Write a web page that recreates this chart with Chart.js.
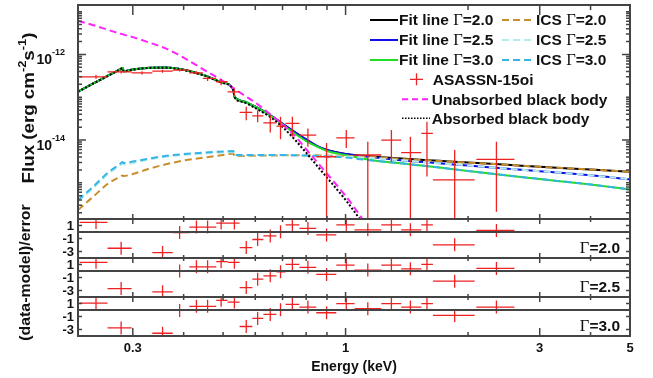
<!DOCTYPE html>
<html>
<head>
<meta charset="utf-8">
<title>ASASSN-15oi X-ray spectrum</title>
<script src="https://cdn.jsdelivr.net/npm/chart.js@4.4.1/dist/chart.umd.min.js"></script>
<style>
html,body{margin:0;padding:0;background:#fff;}
#wrap{position:relative;width:653px;height:378px;}
</style>
</head>
<body>
<div id="wrap"><canvas id="spec" width="653" height="378"></canvas></div>
<script>
(function(){
// model grid (keV); edges at ~0.284 (C) and ~0.532 (O) get two close points
var energyGrid = [0.22,0.24,0.26,0.28,0.283,0.285,0.30,0.33,0.36,0.40,0.45,0.50,0.530,0.533,0.56,0.60,
                  0.65,0.70,0.75,0.80,0.85,0.90,1.0,1.1,1.2,1.4,1.7,2.0,2.5,3.0,4.0,5.0];

var fitG20 = [1.35e-13,2.11e-13,3.14e-13,4.57e-13,4.82e-13,4.04e-13,4.45e-13,4.88e-13,4.96e-13,4.40e-13,3.25e-13,2.19e-13,1.50e-13,1.05e-13,8.1e-14,6.0e-14,
              3.9e-14,2.4e-14,1.54e-14,1.03e-14,7.24e-15,5.84e-15,4.71e-15,4.28e-15,4.01e-15,3.64e-15,3.27e-15,2.99e-15,2.64e-15,2.37e-15,2.05e-15,1.82e-15];
var fitG25 = [1.35e-13,2.11e-13,3.14e-13,4.57e-13,4.82e-13,4.04e-13,4.45e-13,4.88e-13,4.96e-13,4.40e-13,3.25e-13,2.19e-13,1.50e-13,1.05e-13,8.1e-14,6.0e-14,
              3.9e-14,2.4e-14,1.54e-14,1.04e-14,7.3e-15,5.84e-15,4.71e-15,4.23e-15,3.86e-15,3.32e-15,2.86e-15,2.54e-15,2.14e-15,1.87e-15,1.51e-15,1.21e-15];
var fitG30 = [1.35e-13,2.11e-13,3.14e-13,4.57e-13,4.82e-13,4.04e-13,4.45e-13,4.88e-13,4.96e-13,4.40e-13,3.25e-13,2.19e-13,1.50e-13,1.05e-13,8.1e-14,6.0e-14,
              3.85e-14,2.3e-14,1.42e-14,9.48e-15,7.05e-15,5.54e-15,4.47e-15,3.70e-15,3.24e-15,2.79e-15,2.28e-15,1.89e-15,1.48e-15,1.23e-15,9.15e-16,7.0e-16];

var icsG20 = [2.32e-16,4.80e-16,9.40e-16,1.41e-15,1.48e-15,1.45e-15,1.61e-15,2.16e-15,2.68e-15,3.32e-15,3.91e-15,4.47e-15,4.84e-15,4.23e-15,4.23e-15,4.30e-15,
              4.35e-15,4.40e-15,4.42e-15,4.42e-15,4.40e-15,4.35e-15,4.23e-15,4.12e-15,3.95e-15,3.56e-15,3.24e-15,2.97e-15,2.64e-15,2.37e-15,2.05e-15,1.82e-15];
var icsG25 = [3.67e-16,7.59e-16,1.57e-15,2.61e-15,2.83e-15,2.68e-15,2.90e-15,3.51e-15,4.01e-15,4.47e-15,4.84e-15,5.11e-15,5.25e-15,4.40e-15,4.42e-15,4.42e-15,
              4.40e-15,4.40e-15,4.37e-15,4.35e-15,4.30e-15,4.23e-15,4.12e-15,3.91e-15,3.70e-15,3.32e-15,2.86e-15,2.54e-15,2.14e-15,1.87e-15,1.51e-15,1.21e-15];
var icsG30 = [3.98e-16,8.22e-16,1.70e-15,2.83e-15,3.07e-15,2.90e-15,3.15e-15,3.70e-15,4.23e-15,4.71e-15,5.11e-15,5.39e-15,5.54e-15,4.47e-15,4.47e-15,4.47e-15,
              4.47e-15,4.47e-15,4.42e-15,4.35e-15,4.23e-15,4.12e-15,3.91e-15,3.51e-15,3.24e-15,2.79e-15,2.28e-15,1.89e-15,1.48e-15,1.23e-15,9.15e-16,7.0e-16];

var bbUnabs = [6.08e-12,4.83e-12,3.79e-12,3.05e-12,2.98e-12,2.91e-12,2.54e-12,1.88e-12,1.40e-12,8.41e-13,4.31e-13,2.38e-13,1.64e-13,1.58e-13,1.15e-13,7.50e-14,
               4.15e-14,2.30e-14,1.27e-14,6.14e-15,3.10e-15,1.64e-15,4.96e-16,1.43e-16,3.94e-17,null,null,null,null,null,null,null];
var bbAbs   = [1.34e-13,2.10e-13,3.12e-13,4.54e-13,4.79e-13,4.01e-13,4.42e-13,4.84e-13,4.92e-13,4.35e-13,3.20e-13,2.14e-13,1.45e-13,1.01e-13,7.71e-14,5.58e-14,
               3.54e-14,2.02e-14,1.03e-14,5.06e-15,2.54e-15,1.33e-15,4.0e-16,1.17e-16,3.7e-17,null,null,null,null,null,null,null];

// ASASSN-15oi binned spectrum (0 in the lower bound = bar runs off the bottom)
var dataE    = [0.2436,0.2808,0.316,0.355,0.391,0.430,0.458,0.4945,0.533,0.570,0.608,0.653,0.692,0.740,0.808,0.898,1.004,1.134,1.296,1.443,1.585,1.854,2.348];
var dataELo  = [0.222,0.260,0.298,0.335,0.376,0.413,0.446,0.481,0.513,0.549,0.590,0.628,0.676,0.712,0.770,0.847,0.949,1.052,1.224,1.370,1.535,1.639,2.096];
var dataEHi  = [0.260,0.298,0.335,0.376,0.413,0.446,0.481,0.513,0.549,0.590,0.628,0.676,0.712,0.770,0.847,0.949,1.052,1.224,1.370,1.535,1.639,2.076,2.600];
var dataFlux = [3.0e-13,3.93e-13,3.72e-13,4.07e-13,4.3e-13,3.72e-13,2.75e-13,2.3e-13,1.34e-13,4.43e-14,3.69e-14,2.53e-14,2.12e-14,2.46e-14,1.31e-14,
                4.07e-15,1.13e-14,4.47e-15,1.0e-14,5.06e-15,1.43e-14,1.17e-15,3.55e-15];
var dataFLo  = [2.7e-13,3.6e-13,3.4e-13,3.75e-13,3.97e-13,3.4e-13,2.4e-13,1.9e-13,1.1e-13,2.9e-14,2.6e-14,1.5e-14,1.05e-14,1.2e-14,7.0e-15,
                0,6.5e-15,0,3.1e-15,0,1.4e-15,0,2.1e-16];
var dataFHi  = [3.3e-13,4.26e-13,4.04e-13,4.39e-13,4.63e-13,4.04e-13,3.1e-13,2.7e-13,1.58e-13,6.0e-14,5.0e-14,3.8e-14,3.5e-14,3.5e-14,1.87e-14,
                8.5e-15,1.71e-14,9.1e-15,1.71e-14,1.19e-14,2.67e-14,5.84e-15,9.1e-15];

// (data-model)/error for each photon index
var resG20 = [1.47,-2.5,-4.85,-3.17,-0.08,0.76,0.76,1.38,1.38,-2.4,-1.15,-0.6,0.05,1.1,0.55,-0.45,1.1,0.34,1.1,0.34,1.1,-1.98,0.23];
var resG25 = [1.33,-2.7,-4.85,-3.2,0.0,0.65,0.65,1.43,1.33,-2.55,-1.26,-0.74,-0.12,1.02,0.56,-0.53,0.91,0.14,0.91,0.34,1.02,-1.57,0.4];
var resG30 = [1.07,-2.75,-4.85,-3.58,-0.06,0.56,0.56,1.49,1.22,-2.54,-1.3,-0.68,0.05,0.87,0.45,-0.42,0.98,0.2,0.98,0.45,0.98,-0.84,0.45];

var gammas = ["2.0","2.5","3.0"];
var xTickLabels = [0.3,1,3,5];
var xMajor = [0.3,1,3];
var xMinor = [0.4,0.5,0.6,0.7,0.8,0.9,2,4];
var yLabelPowers = [-12,-14];
var resTicks = [1,-1,-3];

var SANS = '"Liberation Sans", Arial, Helvetica, sans-serif';
var SERIF = '"Liberation Serif", "Times New Roman", serif';
var AXIS = "#444";
var RED = "#ee2222";
var C = { fit20:"#000000", fit25:"#1010e8", fit30:"#22dd22", ics20:"#c88e2c", ics25:"#b4ecec", ics30:"#35b4e6", unabs:"#ff22ff" };
var LEG = "bold 15.5px " + SANS;

function pts(arr){ var out=[]; for(var i=0;i<energyGrid.length;i++){ out.push({x:energyGrid[i], y:arr[i]}); } return out; }
function dpts(ys){ var out=[]; for(var i=0;i<dataE.length;i++){ out.push({x:dataE[i], y:ys[i]}); } return out; }
function shift(arr, d){ var o=[]; for(var i=0;i<arr.length;i++){ o.push(arr[i]+d); } return o; }

function curve(label, arr, color, dash, width){
  return { label:label, data:pts(arr), yAxisID:"y", borderColor:color, borderWidth:width||2, borderDash:dash||[],
           pointRadius:0, fill:false, cubicInterpolationMode:"monotone", spanGaps:false };
}
function crosses(label, ys, lo, hi, axis){
  return { label:label, data:dpts(ys), yAxisID:axis, showLine:false, pointRadius:0, borderColor:RED,
           errBars:{ xLo:dataELo, xHi:dataEHi, yLo:lo, yHi:hi } };
}

// first dataset is drawn on top
var datasets = [
  crosses("ASASSN-15oi", dataFlux, dataFLo, dataFHi, "y"),
  curve("Absorbed black body", bbAbs, "#000", [2,2], 2),
  curve("Unabsorbed black body", bbUnabs, C.unabs, [7,4], 2),
  curve("ICS \u0393=3.0", icsG30, C.ics30, [7,4], 2),
  curve("ICS \u0393=2.5", icsG25, C.ics25, [7,4], 2),
  curve("ICS \u0393=2.0", icsG20, C.ics20, [7,4], 2),
  curve("Fit line \u0393=3.0", fitG30, C.fit30),
  curve("Fit line \u0393=2.5", fitG25, C.fit25),
  curve("Fit line \u0393=2.0", fitG20, C.fit20),
  crosses("res 2.0", resG20, shift(resG20,-1), shift(resG20,1), "r20"),
  crosses("res 2.5", resG25, shift(resG25,-1), shift(resG25,1), "r25"),
  crosses("res 3.0", resG30, shift(resG30,-1), shift(resG30,1), "r30")
];

function drawRuns(ctx, runs, x, y, align){
  var w = 0, i;
  for (i=0;i<runs.length;i++){ ctx.font = runs[i].font; runs[i].w = ctx.measureText(runs[i].text).width; w += runs[i].w; }
  var cx = align === "right" ? x - w : (align === "center" ? x - w/2 : x);
  ctx.textAlign = "left";
  for (i=0;i<runs.length;i++){ ctx.font = runs[i].font; ctx.fillText(runs[i].text, cx, y + (runs[i].dy||0)); cx += runs[i].w; }
}
function gRuns(prefix, g){
  var r = [];
  if (prefix) r.push({text:prefix, font:LEG});
  r.push({text:"\u0393", font:"16.5px "+SERIF});
  r.push({text:"="+g, font:LEG});
  return r;
}

var crossPlugin = {
  id:"crosses",
  afterDatasetsDraw:function(chart){
    var ctx = chart.ctx, xs = chart.scales.x;
    chart.data.datasets.forEach(function(ds){
      if (!ds.errBars) return;
      var ys = chart.scales[ds.yAxisID], e = ds.errBars;
      ctx.save();
      ctx.beginPath(); ctx.rect(xs.left, ys.top, xs.right - xs.left, ys.bottom - ys.top); ctx.clip();
      ctx.strokeStyle = RED; ctx.lineWidth = 1.3;
      ctx.beginPath();
      for (var k=0;k<ds.data.length;k++){
        var px = xs.getPixelForValue(ds.data[k].x), py = ys.getPixelForValue(ds.data[k].y);
        ctx.moveTo(xs.getPixelForValue(e.xLo[k]), py); ctx.lineTo(xs.getPixelForValue(e.xHi[k]), py);
        ctx.moveTo(px, ys.getPixelForValue(e.yLo[k])); ctx.lineTo(px, ys.getPixelForValue(e.yHi[k]));
      }
      ctx.stroke();
      ctx.restore();
    });
  }
};

var framePlugin = {
  id:"frame",
  afterDraw:function(chart){
    var ctx = chart.ctx, xs = chart.scales.x, ym = chart.scales.y;
    var panels = [chart.scales.r20, chart.scales.r25, chart.scales.r30];
    var L = xs.left, R = xs.right, T = ym.top, B = panels[2].bottom;
    var i, k, p, v, py;
    ctx.save();
    ctx.lineCap = "butt";

    // box, panel separators and zero lines
    ctx.strokeStyle = AXIS; ctx.lineWidth = 2;
    ctx.beginPath();
    ctx.moveTo(L, T-1); ctx.lineTo(L, B+1);
    ctx.moveTo(R, T-1); ctx.lineTo(R, B+1);
    var hs = [T, ym.bottom, panels[0].bottom, panels[1].bottom, B];
    for (i=0;i<hs.length;i++){ ctx.moveTo(L, hs[i]); ctx.lineTo(R, hs[i]); }
    for (i=0;i<panels.length;i++){ py = panels[i].getPixelForValue(0); ctx.moveTo(L, py); ctx.lineTo(R, py); }
    ctx.stroke();

    // energy ticks on every horizontal rule
    ctx.lineWidth = 1.5;
    ctx.beginPath();
    var xt = xMajor.concat(xMinor);
    for (i=0;i<hs.length;i++){
      for (k=0;k<xt.length;k++){
        var maj = xMajor.indexOf(xt[k]) >= 0, px = xs.getPixelForValue(xt[k]);
        var up = maj ? 5 : 3, down = maj ? 5 : 3;
        if (i === 0){ up = 0; down = maj ? 10 : 5; }
        if (i === hs.length-1){ down = 0; up = maj ? 8 : 4; }
        ctx.moveTo(px, hs[i]-up); ctx.lineTo(px, hs[i]+down);
      }
    }
    // flux ticks, both sides
    for (p=-17;p<=-11;p++){
      for (k=1;k<=9;k++){
        v = k*Math.pow(10,p);
        if (v < ym.min || v > ym.max) continue;
        py = ym.getPixelForValue(v);
        var len = (k===1 && yLabelPowers.indexOf(p) >= 0) ? 8 : 4;
        ctx.moveTo(L, py); ctx.lineTo(L+len, py);
        ctx.moveTo(R, py); ctx.lineTo(R-len, py);
      }
    }
    // residual ticks
    for (i=0;i<panels.length;i++){
      for (k=0;k<resTicks.length;k++){
        py = panels[i].getPixelForValue(resTicks[k]);
        ctx.moveTo(L, py); ctx.lineTo(L+4, py);
        ctx.moveTo(R, py); ctx.lineTo(R-4, py);
      }
    }
    ctx.stroke();

    ctx.fillStyle = "#111";
    ctx.textBaseline = "alphabetic";
    // flux tick labels 10^n
    for (i=0;i<yLabelPowers.length;i++){
      py = ym.getPixelForValue(Math.pow(10, yLabelPowers[i]));
      drawRuns(ctx, [{text:"10", font:"bold 14px "+SANS, dy:0},
                     {text:String(yLabelPowers[i]), font:"bold 9px "+SANS, dy:-9}], L-13, py+10, "right");
    }
    // residual tick labels
    ctx.textBaseline = "middle"; ctx.textAlign = "right"; ctx.font = "bold 13px "+SANS;
    for (i=0;i<panels.length;i++){
      for (k=0;k<resTicks.length;k++){
        ctx.fillText(String(resTicks[k]), L-4, panels[i].getPixelForValue(resTicks[k]) + 0.5);
      }
    }
    // photon index per residual panel
    ctx.textBaseline = "alphabetic";
    for (i=0;i<panels.length;i++){ drawRuns(ctx, gRuns("", gammas[i]), R-10, panels[i].bottom-5.5, "right"); }

    // axis titles (drawn slightly stretched along the reading direction)
    var bf = "bold 15px "+SANS;
    ctx.save();
    ctx.translate(34, (ym.top+ym.bottom)/2 - 4);
    ctx.rotate(-Math.PI/2);
    ctx.scale(1.17, 1);
    drawRuns(ctx, [{text:"Flux (erg cm", font:"bold 16px "+SANS}, {text:"-2", font:"bold 11px "+SANS, dy:-8}, {text:"s", font:"bold 16px "+SANS},
                   {text:"-1", font:"bold 11px "+SANS, dy:-8}, {text:")", font:"bold 16px "+SANS}], 0, 0, "center");
    ctx.restore();
    ctx.save();
    ctx.translate(30, (panels[0].top+B)/2 - 5);
    ctx.rotate(-Math.PI/2);
    ctx.scale(1.055, 1);
    drawRuns(ctx, [{text:"(data-model)/error", font:bf}], 0, 0, "center");
    ctx.restore();

    // legend
    var lx = R, ly = T;
    ctx.textBaseline = "middle";
    var fitCols = [C.fit20, C.fit25, C.fit30], icsCols = [C.ics20, C.ics25, C.ics30];
    for (i=0;i<3;i++){
      var ry = ly + 15 + 20*i;
      ctx.setLineDash([]); ctx.lineWidth = 2; ctx.strokeStyle = fitCols[i];
      ctx.beginPath(); ctx.moveTo(lx-260, ry); ctx.lineTo(lx-232, ry); ctx.stroke();
      drawRuns(ctx, gRuns("Fit line ", gammas[i]), lx-231, ry+1, "left");
      ctx.setLineDash([7,4]); ctx.strokeStyle = icsCols[i];
      ctx.beginPath(); ctx.moveTo(lx-128, ry); ctx.lineTo(lx-97, ry); ctx.stroke();
      drawRuns(ctx, gRuns("ICS ", gammas[i]), lx-94, ry+1, "left");
    }
    ctx.setLineDash([]);
    var cy = ly + 74.3;
    ctx.strokeStyle = RED; ctx.lineWidth = 1.3;
    ctx.beginPath();
    ctx.moveTo(lx-220, cy); ctx.lineTo(lx-207, cy);
    ctx.moveTo(lx-213.5, cy-6); ctx.lineTo(lx-213.5, cy+6);
    ctx.stroke();
    drawRuns(ctx, [{text:"ASASSN-15oi", font:LEG}], lx-197.3, cy+1, "left");
    var my = ly + 94.3;
    ctx.setLineDash([6,4]); ctx.lineWidth = 2; ctx.strokeStyle = C.unabs;
    ctx.beginPath(); ctx.moveTo(lx-228, my); ctx.lineTo(lx-200, my); ctx.stroke();
    drawRuns(ctx, [{text:"Unabsorbed black body", font:LEG}], lx-198.3, my+1, "left");
    var dy = ly + 113.3;
    ctx.setLineDash([1.5,1.5]); ctx.lineWidth = 1.5; ctx.strokeStyle = "#000";
    ctx.beginPath(); ctx.moveTo(lx-228, dy); ctx.lineTo(lx-200, dy); ctx.stroke();
    drawRuns(ctx, [{text:"Absorbed black body", font:LEG}], lx-198.3, dy+1, "left");
    ctx.restore();
  }
};

new Chart(document.getElementById("spec"), {
  type:"line",
  data:{ datasets:datasets },
  options:{
    responsive:false, animation:false, devicePixelRatio:1,
    layout:{ padding:{ left:78, right:23, top:5, bottom:0 } },
    plugins:{ legend:{display:false}, tooltip:{enabled:false}, title:{display:false} },
    scales:{
      x:{ type:"logarithmic", position:"bottom", min:0.22, max:5,
          grid:{display:false, drawTicks:false}, border:{display:false},
          afterBuildTicks:function(s){ s.ticks = xTickLabels.map(function(v){ return {value:v}; }); },
          afterFit:function(s){ s.height = 42; },
          ticks:{ autoSkip:false, maxRotation:0, padding:5, color:"#111",
                  font:{family:SANS, size:13, weight:"bold"},
                  callback:function(v){ return String(v); } },
          title:{ display:true, text:"Energy (keV)", color:"#111", padding:{top:0,bottom:2},
                  font:{family:SANS, size:14, weight:"bold"} } },
      y:{ type:"logarithmic", position:"left", min:1.43e-16, max:1.43e-11, display:false,
          stack:"panels", stackWeight:214, weight:4 },
      r20:{ type:"linear", position:"left", min:-4, max:2, display:false, stack:"panels", stackWeight:39, weight:3 },
      r25:{ type:"linear", position:"left", min:-4, max:2, display:false, stack:"panels", stackWeight:39, weight:2 },
      r30:{ type:"linear", position:"left", min:-4, max:2, display:false, stack:"panels", stackWeight:39, weight:1 }
    }
  },
  plugins:[crossPlugin, framePlugin]
});
})();
</script>
</body>
</html>
